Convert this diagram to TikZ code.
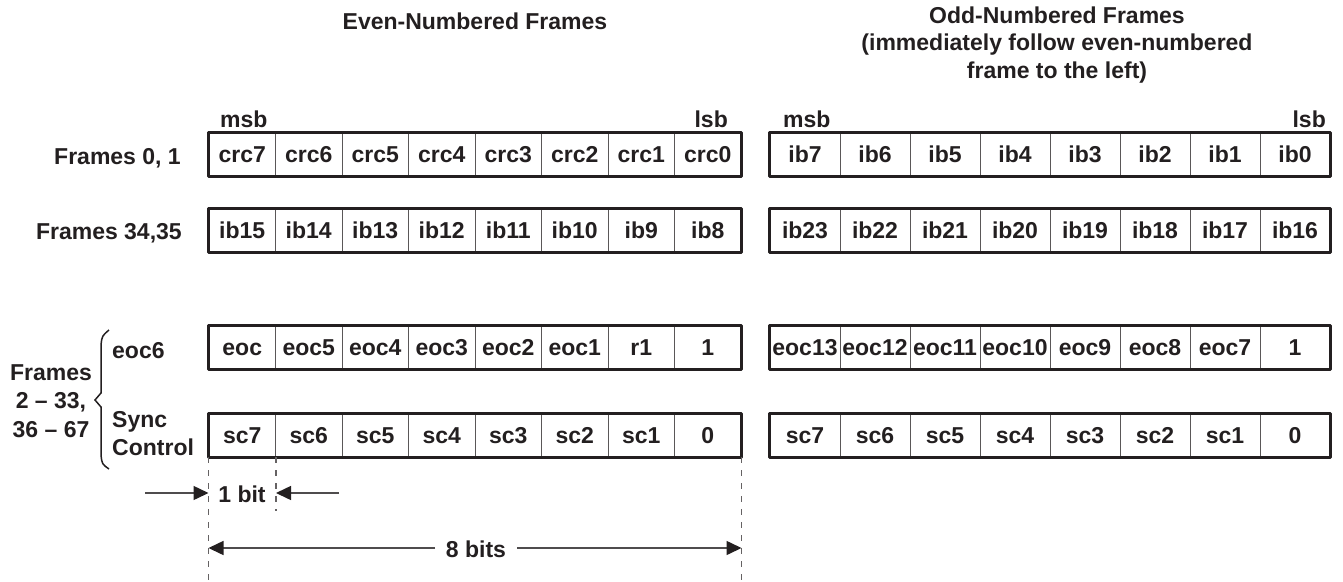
\documentclass[tikz,border=0pt]{standalone}
\usepackage{fontspec}
\setmainfont{Liberation Sans}
\usetikzlibrary{arrows.meta,calc}
\definecolor{ink}{HTML}{231F20}
\begin{document}
\begin{tikzpicture}[x=1pt,y=-1pt,
  font=\fontsize{23}{27.5}\selectfont\bfseries, text=ink,
  lcell/.style={draw=ink!75, line width=1pt, minimum width=66.5pt, minimum height=43pt,
                inner sep=0pt, text height=16.5pt, text depth=0pt},
  rcell/.style={lcell, minimum width=70pt},
  frame/.style={draw=ink, line width=3pt, line join=round},
  dashline/.style={draw=ink!70, line width=1.5pt, dash pattern=on 6pt off 7pt},
  dimarrow/.style={draw=ink!80, line width=1.5pt, -{Triangle[length=15pt,width=14pt,fill=ink,color=ink]}},
  lbl/.style={inner sep=0pt},
  brace/.style={draw=ink, line width=1.5pt, line join=miter}]
\useasboundingbox (0,0) rectangle (1343,581);

% column headings
\node[lbl] (evenhead) at (475,21) {Even-Numbered Frames};
\node[lbl, align=center] (oddhead) at (1057,45)
  {Odd-Numbered Frames\\(immediately follow even-numbered\\frame to the left)};

% bit order markers
\node[lbl, anchor=base west] (msbL) at (220,127) {msb};
\node[lbl, anchor=base east] (lsbL) at (728,127) {lsb};
\node[lbl, anchor=base west] (msbR) at (783,127) {msb};
\node[lbl, anchor=base east] (lsbR) at (1326,127) {lsb};

% row 1: frames 0, 1
\node[lbl, anchor=east, text height=16.5pt, text depth=0pt] (row1) at (181,156) {Frames 0, 1};
\foreach \t [count=\i] in {crc7,crc6,crc5,crc4,crc3,crc2,crc1,crc0}
  \node[lcell] (a\i) at ({209+(\i-0.5)*66.5},154.5) {\t};
\foreach \t [count=\i] in {ib7,ib6,ib5,ib4,ib3,ib2,ib1,ib0}
  \node[rcell] (b\i) at ({770+(\i-0.5)*70},154.5) {\t};
\draw[frame] (a1.north west) rectangle (a8.south east);
\draw[frame] (b1.north west) rectangle (b8.south east);

% row 2: frames 34, 35
\node[lbl, anchor=east, text height=16.5pt, text depth=0pt] (row2) at (182,231) {Frames 34,35};
\foreach \t [count=\i] in {ib15,ib14,ib13,ib12,ib11,ib10,ib9,ib8}
  \node[lcell] (c\i) at ({209+(\i-0.5)*66.5},230.5) {\t};
\foreach \t [count=\i] in {ib23,ib22,ib21,ib20,ib19,ib18,ib17,ib16}
  \node[rcell] (d\i) at ({770+(\i-0.5)*70},230.5) {\t};
\draw[frame] (c1.north west) rectangle (c8.south east);
\draw[frame] (d1.north west) rectangle (d8.south east);

% row 3: eoc
\foreach \t [count=\i] in {eoc,eoc5,eoc4,eoc3,eoc2,eoc1,r1,1}
  \node[lcell] (e\i) at ({209+(\i-0.5)*66.5},347.5) {\t};
\foreach \t [count=\i] in {eoc13,eoc12,eoc11,eoc10,eoc9,eoc8,eoc7,1}
  \node[rcell] (f\i) at ({770+(\i-0.5)*70},347.5) {\t};
\draw[frame] (e1.north west) rectangle (e8.south east);
\draw[frame] (f1.north west) rectangle (f8.south east);

% row 4: sync control
\foreach \t [count=\i] in {sc7,sc6,sc5,sc4,sc3,sc2,sc1,0}
  \node[lcell] (g\i) at ({209+(\i-0.5)*66.5},435) {\t};
\foreach \t [count=\i] in {sc7,sc6,sc5,sc4,sc3,sc2,sc1,0}
  \node[rcell] (h\i) at ({770+(\i-0.5)*70},435) {\t};
\draw[frame] (g1.north west) rectangle (g8.south east);
\draw[frame] (h1.north west) rectangle (h8.south east);

% frames 2-33, 36-67 grouping
\node[lbl, align=center, font=\fontsize{23}{28.5}\selectfont\bfseries] (grp) at (51,401) {Frames\\2 -- 33,\\36 -- 67};
\node[lbl, anchor=west, text height=16.5pt, text depth=0pt] (eoclbl) at (112,350) {eoc6};
\node[lbl, anchor=west, align=left, font=\fontsize{23}{28}\selectfont\bfseries] (synclbl) at (112,434) {Sync\\Control};
\draw[brace] (109,330) .. controls (102,336) .. (101,345) -- (101,393) -- (95,400)
  -- (101,407) -- (101,455) .. controls (102,464) .. (109,469);

% bit width guides
\coordinate (v1) at ($(g1.south west)+(0,125)$);
\coordinate (v2) at ($(g1.south east)+(0,54)$);
\coordinate (v3) at ($(g8.south east)+(0,125)$);
\draw[dashline] (g1.south west) -- (v1);
\draw[dashline] (g1.south east) -- (v2);
\draw[dashline] (g8.south east) -- (v3);

% 1 bit
\node[lbl] (onebit) at (242,494) {1 bit};
\coordinate (p1) at (145,493);
\coordinate (p2) at (339,493);
\draw[dimarrow] (p1) -- (g1.south west |- p1);
\draw[dimarrow] (p2) -- (g1.south east |- p2);

% 8 bits
\node[lbl] (eightbits) at (476,549) {8 bits};
\coordinate (q1) at (435,548);
\coordinate (q2) at (517,548);
\draw[dimarrow] (q1) -- (g1.south west |- q1);
\draw[dimarrow] (q2) -- (g8.south east |- q2);
\end{tikzpicture}
\end{document}
